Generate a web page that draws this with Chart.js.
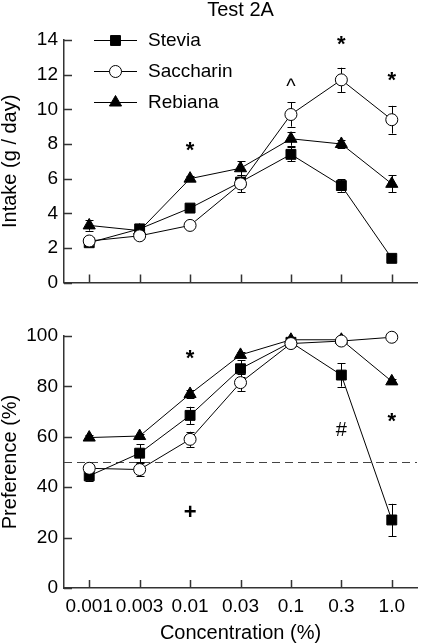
<!DOCTYPE html>
<html><head><meta charset="utf-8">
<script src="https://cdn.jsdelivr.net/npm/chart.js@4.4.1/dist/chart.umd.min.js"></script>
<style>
html,body{margin:0;padding:0;background:#fff;}
#wrap{position:relative;width:425px;height:643px;overflow:hidden;}
#c1{position:absolute;left:0;top:0;}
#c2{position:absolute;left:0;top:300px;}
</style></head><body>
<div id="wrap"><canvas id="c1" width="425" height="300"></canvas><canvas id="c2" width="425" height="343"></canvas></div>
<script>
// ---- data ----
const concentrations = ['0.001','0.003','0.01','0.03','0.1','0.3','1.0'];
const seriesNames = ['Stevia','Saccharin','Rebiana'];

const intakeStevia    = [2.3, 3.1, 4.3, 5.8, 7.4, 5.6, 1.4];
const intakeSaccharin = [2.4, 2.7, 3.3, 5.7, 9.7, 11.7, 9.4];
const intakeRebiana   = [3.3, 3.0, 6.0, 6.6, 8.3, 8.0, 5.7];
const intakeSteviaErr    = [0.15, 0.2, 0.2, 0.3, 0.4, 0.35, 0.15];
const intakeSaccharinErr = [0.15, 0.2, 0.15, 0.5, 0.7, 0.7, 0.8];
const intakeRebianaErr   = [0.3, 0.1, 0.15, 0.4, 0.4, 0.25, 0.5];

const prefStevia    = [44.5, 53.5, 68.5, 87, 97.5, 84.5, 27];
const prefSaccharin = [47.5, 47, 59, 81.5, 97, 98, 99.5];
const prefRebiana   = [59.7, 60.3, 77, 92.5, 98.5, 98.5, 82];
const prefSteviaErr    = [2, 3.5, 3.4, 3.4, 1, 4.6, 6.4];
const prefSaccharinErr = [1.5, 2.5, 3, 3.3, 1, 1, 0.5];
const prefRebianaErr   = [1, 1, 1.5, 1, 0.5, 0.5, 1];

const intakeTicks = [0, 14, 2];
const prefTicks = [0, 100, 20];
const prefReference = 50;

const intakeNotes = [
  {i: 2, v: 7.83, t: '*'},
  {i: 4, v: 11.6, t: '^'},
  {i: 5, v: 13.96, t: '*'},
  {i: 6, v: 11.87, t: '*'}
];
const prefNotes = [
  {i: 2, v: 92.5, t: '*'},
  {i: 5, v: 63, t: '#'},
  {i: 6, v: 67.6, t: '*'},
  {i: 2, v: 30.6, t: '+'}
];

// ---- styles ----
const FONT = "'Liberation Sans', Arial, sans-serif";
Chart.defaults.font.family = FONT;
Chart.defaults.color = '#000';
const noteFonts = {'*': 'bold 22px ', '+': 'bold 22px ', '#': '20px ', '^': '20px '};

const styles = [
  {pointStyle: 'rect', radius: 7, bg: '#000', order: 1},
  {pointStyle: 'circle', radius: 6, bg: '#fff', order: 0},
  {pointStyle: 'triangle', radius: 7, bg: '#000', order: 2}
];

function makeDatasets(vals, errs) {
  return vals.map((v, k) => ({
    label: seriesNames[k],
    data: v,
    errors: errs[k],
    borderColor: '#000',
    borderWidth: 1,
    pointStyle: styles[k].pointStyle,
    pointRadius: styles[k].radius,
    pointHoverRadius: styles[k].radius,
    pointBackgroundColor: styles[k].bg,
    pointBorderColor: '#000',
    pointBorderWidth: 1,
    tension: 0,
    fill: false,
    clip: false,
    order: styles[k].order
  }));
}

const errorBars = {
  id: 'errorBars',
  beforeDatasetsDraw(chart) {
    const ctx = chart.ctx, xs = chart.scales.x, ys = chart.scales.y;
    ctx.save();
    ctx.strokeStyle = '#000';
    ctx.lineWidth = 1;
    chart.data.datasets.forEach(ds => {
      ds.data.forEach((v, i) => {
        const e = ds.errors[i];
        const x = Math.round(xs.getPixelForValue(i)) + 0.5;
        const y1 = ys.getPixelForValue(v + e), y2 = ys.getPixelForValue(v - e);
        ctx.beginPath();
        ctx.moveTo(x, y1); ctx.lineTo(x, y2);
        ctx.moveTo(x - 4, Math.round(y1) + 0.5); ctx.lineTo(x + 4, Math.round(y1) + 0.5);
        ctx.moveTo(x - 4, Math.round(y2) + 0.5); ctx.lineTo(x + 4, Math.round(y2) + 0.5);
        ctx.stroke();
      });
    });
    ctx.restore();
  }
};

const innerTicks = {
  id: 'innerTicks',
  afterDraw(chart) {
    const ctx = chart.ctx, xs = chart.scales.x, ys = chart.scales.y, a = chart.chartArea;
    ctx.save();
    ctx.strokeStyle = '#333';
    ctx.lineWidth = 1.5;
    ctx.beginPath();
    xs.ticks.forEach((t, i) => {
      const x = Math.round(xs.getPixelForValue(i)) + 0.5;
      ctx.moveTo(x, a.bottom); ctx.lineTo(x, a.bottom - 8);
    });
    ys.ticks.forEach(t => {
      const y = Math.round(ys.getPixelForValue(t.value)) + 0.5;
      ctx.moveTo(a.left, y); ctx.lineTo(a.left + 8, y);
    });
    ctx.stroke();
    ctx.restore();
  }
};

const notesPlugin = {
  id: 'notes',
  afterDatasetsDraw(chart, args, opts) {
    const ctx = chart.ctx, xs = chart.scales.x, ys = chart.scales.y;
    ctx.save();
    ctx.fillStyle = '#000';
    ctx.textAlign = 'center';
    ctx.textBaseline = 'alphabetic';
    (opts.notes || []).forEach(n => {
      ctx.font = (noteFonts[n.t] || '20px ') + FONT;
      const m = ctx.measureText(n.t);
      const x = xs.getPixelForValue(n.i);
      const yc = ys.getPixelForValue(n.v);
      const y = yc + (m.actualBoundingBoxAscent - m.actualBoundingBoxDescent) / 2;
      ctx.fillText(n.t, x, y);
    });
    ctx.restore();
  }
};

const refLine = {
  id: 'refLine',
  beforeDatasetsDraw(chart, args, opts) {
    if (opts.value === undefined) return;
    const ctx = chart.ctx, ys = chart.scales.y, a = chart.chartArea;
    const y = Math.round(ys.getPixelForValue(opts.value)) + 0.5;
    ctx.save();
    ctx.strokeStyle = '#444';
    ctx.lineWidth = 1;
    ctx.setLineDash([8, 5]);
    ctx.beginPath();
    ctx.moveTo(a.left, y); ctx.lineTo(a.right, y);
    ctx.stroke();
    ctx.restore();
  }
};

const legendPlugin = {
  id: 'customLegend',
  afterDraw(chart, args, opts) {
    if (!opts.show) return;
    const ctx = chart.ctx;
    const rows = [40, 71, 102];
    ctx.save();
    seriesNames.forEach((name, k) => {
      const y = rows[k];
      ctx.strokeStyle = '#000';
      ctx.lineWidth = 1;
      ctx.beginPath();
      ctx.moveTo(94, y + 0.5); ctx.lineTo(137, y + 0.5);
      ctx.stroke();
      ctx.fillStyle = styles[k].bg;
      ctx.strokeStyle = '#000';
      Chart.helpers.drawPoint(ctx, {pointStyle: styles[k].pointStyle, radius: styles[k].radius, rotation: 0, borderWidth: 1}, 115.5, y + 0.5);
      ctx.fillStyle = '#000';
      ctx.font = '19px ' + FONT;
      ctx.textAlign = 'left';
      ctx.textBaseline = 'middle';
      ctx.fillText(name, 148, y + 1);
    });
    ctx.restore();
  }
};

function makeScales(range, yTitle, showX) {
  const border = {display: true, color: '#333', width: 1.5};
  return {
    x: {
      type: 'category', offset: true,
      grid: {display: false, offset: false, drawTicks: false},
      border: border,
      ticks: {display: showX, font: {size: 19}, color: '#000', padding: 7, maxRotation: 0, autoSkip: false},
      title: {display: showX, text: 'Concentration (%)', font: {size: 20, lineHeight: 1}, color: '#000', padding: 0},
      afterFit: s => { s.height = showX ? 55 : 8; }
    },
    y: {
      type: 'linear', min: range[0], max: range[1],
      grid: {display: false, drawTicks: false},
      border: border,
      ticks: {stepSize: range[2], font: {size: 19}, color: '#000', padding: 6},
      title: {display: true, text: yTitle, font: {size: 20, lineHeight: 1}, color: '#000', padding: 0},
      afterFit: s => { s.width = 64; }
    }
  };
}

new Chart(document.getElementById('c1'), {
  type: 'line',
  data: {labels: concentrations, datasets: makeDatasets([intakeStevia, intakeSaccharin, intakeRebiana], [intakeSteviaErr, intakeSaccharinErr, intakeRebianaErr])},
  options: {
    responsive: false, animation: false,
    layout: {padding: {top: 0, right: 2, left: 0, bottom: 0}},
    scales: makeScales(intakeTicks, 'Intake (g / day)', false),
    plugins: {
      legend: {display: false}, tooltip: {enabled: false},
      title: {display: true, text: 'Test 2A', fullSize: false, font: {size: 20, weight: 'normal', lineHeight: 1}, color: '#000', padding: {top: 0, bottom: 20}},
      notes: {notes: intakeNotes},
      customLegend: {show: true}
    }
  },
  plugins: [errorBars, innerTicks, notesPlugin, legendPlugin]
});

new Chart(document.getElementById('c2'), {
  type: 'line',
  data: {labels: concentrations, datasets: makeDatasets([prefStevia, prefSaccharin, prefRebiana], [prefSteviaErr, prefSaccharinErr, prefRebianaErr])},
  options: {
    responsive: false, animation: false,
    layout: {padding: {top: 36, right: 2, left: 0, bottom: 0}},
    scales: makeScales(prefTicks, 'Preference (%)', true),
    plugins: {
      legend: {display: false}, tooltip: {enabled: false},
      notes: {notes: prefNotes},
      refLine: {value: prefReference}
    }
  },
  plugins: [refLine, errorBars, innerTicks, notesPlugin]
});
</script>
</body></html>
